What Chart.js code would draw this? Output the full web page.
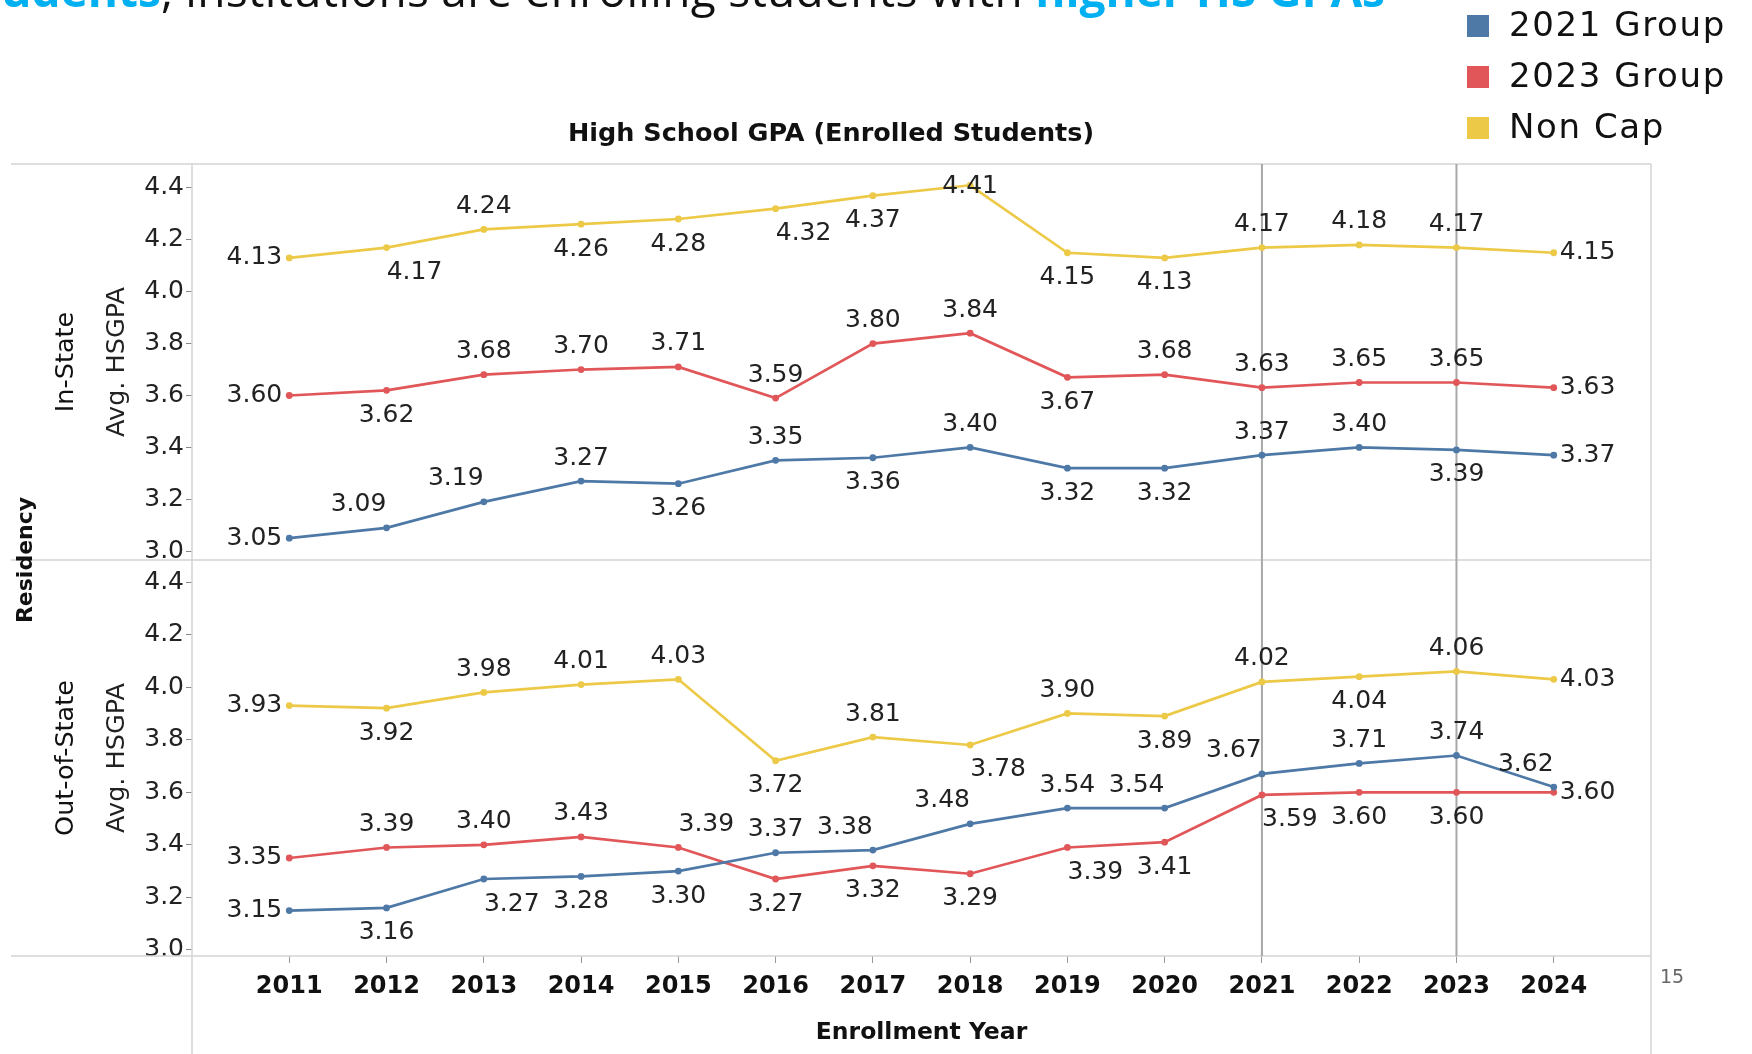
<!DOCTYPE html>
<html>
<head>
<meta charset="utf-8">
<script src="https://cdn.jsdelivr.net/npm/chart.js@4.4.0/dist/chart.umd.min.js"></script>
<style>
  html, body { margin: 0; padding: 0; background: #fff; overflow: hidden; }
  #wrap { position: relative; width: 1752px; height: 1054px; overflow: hidden; }
  #chart { position: absolute; left: 0; top: 0; }
  #headline {
    position: absolute; right: 367px; top: -34px;
    white-space: nowrap; font: 46px "Open Sans"; line-height: 46px; color: #111;
    letter-spacing: 0.3px;
  }
  #headline b { color: #00b0f0; letter-spacing: 0; }
</style>
</head>
<body>
<div id="wrap">
  <canvas id="chart" width="1752" height="1054"></canvas>
  <div id="headline"><b>Students</b>, institutions are enrolling students with <b>higher HS GPAs</b></div>
</div>
<script>
const years = [2011, 2012, 2013, 2014, 2015, 2016, 2017, 2018, 2019, 2020, 2021, 2022, 2023, 2024];
const yTicks = [3.0, 3.2, 3.4, 3.6, 3.8, 4.0, 4.2, 4.4];
const refYears = [2021, 2023];
const groups = ['2021 Group', '2023 Group', 'Non Cap'];
const colors = ['#4e79a7', '#e15759', '#edc948'];

// In-State
const inState2021 = [3.05, 3.09, 3.19, 3.27, 3.26, 3.35, 3.36, 3.40, 3.32, 3.32, 3.37, 3.40, 3.39, 3.37];
const inState2023 = [3.60, 3.62, 3.68, 3.70, 3.71, 3.59, 3.80, 3.84, 3.67, 3.68, 3.63, 3.65, 3.65, 3.63];
const inStateNonCap = [4.13, 4.17, 4.24, 4.26, 4.28, 4.32, 4.37, 4.41, 4.15, 4.13, 4.17, 4.18, 4.17, 4.15];

// Out-of-State
const outState2021 = [3.15, 3.16, 3.27, 3.28, 3.30, 3.37, 3.38, 3.48, 3.54, 3.54, 3.67, 3.71, 3.74, 3.62];
const outState2023 = [3.35, 3.39, 3.40, 3.43, 3.39, 3.27, 3.32, 3.29, 3.39, 3.41, 3.59, 3.60, 3.60, 3.60];
const outStateNonCap = [3.93, 3.92, 3.98, 4.01, 4.03, 3.72, 3.81, 3.78, 3.90, 3.89, 4.02, 4.04, 4.06, 4.03];

// where each value label sits next to its point (a=above, b=below, l/r=side, c=on point)
const labelSide = [
  ['l','al','al','a','b','a','b','a','b','b','a','a','b','r'],
  ['l','b','a','a','a','a','a','a','b','a','a','a','a','r'],
  ['l','br','a','b','b','br','b','c','b','b','a','a','a','r'],
  ['l','b','br','b','b','a','al','al','a','al','al','a','a','al'],
  ['l','a','a','a','ar','b','b','b','br','b','br','b','b','r'],
  ['l','b','a','a','a','b','a','br','a','b','a','b','a','r']
];

const FONT = '"DejaVu Sans", sans-serif';

function series(values, i, axis) {
  return {
    label: groups[i],
    data: values.map((v, k) => ({ x: years[k], y: v })),
    yAxisID: axis,
    borderColor: colors[i],
    backgroundColor: colors[i],
    pointBackgroundColor: colors[i],
    borderWidth: 2.7,
    pointRadius: 3.4,
    pointBorderWidth: 0,
    tension: 0,
    clip: false
  };
}

const panels = {
  id: 'panels',
  beforeDatasetsDraw(chart) {
    const { ctx, chartArea, scales } = chart;
    ctx.save();
    ctx.strokeStyle = '#d4d4d4';
    ctx.lineWidth = 1.5;
    ctx.beginPath();
    [scales.yIn.top, scales.yIn.bottom, scales.yOut.bottom].forEach(y => {
      ctx.moveTo(11, y); ctx.lineTo(chartArea.right, y);
    });
    ctx.moveTo(chartArea.left, chartArea.top); ctx.lineTo(chartArea.left, chart.height);
    ctx.moveTo(chartArea.right, chartArea.top); ctx.lineTo(chartArea.right, chart.height);
    ctx.stroke();

    ctx.strokeStyle = '#a8a8a8';
    ctx.lineWidth = 2;
    ctx.beginPath();
    refYears.forEach(yr => {
      const x = scales.x.getPixelForValue(yr);
      ctx.moveTo(x, chartArea.top); ctx.lineTo(x, chartArea.bottom);
    });
    ctx.stroke();
    ctx.restore();
  },
  afterDatasetsDraw(chart) {
    const { ctx } = chart;
    ctx.save();
    ctx.font = '25px ' + FONT;
    ctx.fillStyle = '#222';
    ctx.textBaseline = 'middle';
    chart.data.datasets.forEach((ds, di) => {
      const meta = chart.getDatasetMeta(di);
      meta.data.forEach((pt, k) => {
        const side = labelSide[di][k];
        const txt = ds.data[k].y.toFixed(2);
        let x = pt.x, y = pt.y;
        ctx.textAlign = 'center';
        if (side === 'l') { ctx.textAlign = 'right'; x -= 7; }
        else if (side === 'r') { ctx.textAlign = 'left'; x += 6; }
        else if (side === 'c') { y += 1; }
        else {
          y += side[0] === 'a' ? -23 : 25;
          if (side[1] === 'l') x -= 28;
          if (side[1] === 'r') x += 28;
        }
        ctx.fillText(txt, x, y);
      });
    });
    ctx.restore();
  },
  afterDraw(chart) {
    const { ctx, scales } = chart;
    ctx.save();
    ctx.fillStyle = '#111';
    ctx.textAlign = 'center';
    ctx.textBaseline = 'middle';

    ctx.font = 'bold 25.5px ' + FONT;
    ctx.fillText('High School GPA (Enrolled Students)', 831, 134);

    const rowLabel = (text, x, y, font) => {
      ctx.save();
      ctx.translate(x, y);
      ctx.rotate(-Math.PI / 2);
      ctx.font = font;
      ctx.fillText(text, 0, 0);
      ctx.restore();
    };
    rowLabel('Residency', 26, scales.yIn.bottom, 'bold 22px ' + FONT);
    rowLabel('In-State', 66, (scales.yIn.top + scales.yIn.bottom) / 2, '25.5px ' + FONT);
    rowLabel('Out-of-State', 66, (scales.yOut.top + scales.yOut.bottom) / 2, '25.5px ' + FONT);

    // legend
    ctx.textAlign = 'left';
    ctx.font = '34px ' + FONT;
    ctx.letterSpacing = '1.6px';
    groups.forEach((g, i) => {
      const y = 26 + i * 51;
      ctx.fillStyle = colors[i];
      ctx.fillRect(1467, y - 11, 22, 22);
      ctx.fillStyle = '#111';
      ctx.fillText(g, 1509, y + 1);
    });
    ctx.letterSpacing = '0px';

    ctx.fillStyle = '#666';
    ctx.font = '19px ' + FONT;
    ctx.textAlign = 'center';
    ctx.fillText('15', 1672, 978);
    ctx.restore();
  }
};

const yAxis = (min, max, weight) => ({
  type: 'linear',
  position: 'left',
  stack: 'residency',
  stackWeight: 1,
  weight: weight,
  min: min,
  max: max,
  afterBuildTicks: s => { s.ticks = yTicks.map(v => ({ value: v })); },
  afterFit: s => { s.width = 192; },
  ticks: {
    callback: v => v.toFixed(1),
    font: { family: FONT, size: 25 },
    color: '#222',
    padding: 2,
    autoSkip: false
  },
  grid: { drawOnChartArea: false, drawTicks: true, tickLength: 6, color: '#888' },
  border: { display: false },
  title: {
    display: true,
    text: 'Avg. HSGPA',
    font: { family: FONT, size: 25.5 },
    color: '#222',
    padding: { top: 102, bottom: 0 }
  }
});

new Chart(document.getElementById('chart'), {
  type: 'line',
  data: {
    datasets: [
      series(inState2021, 0, 'yIn'),
      series(inState2023, 1, 'yIn'),
      series(inStateNonCap, 2, 'yIn'),
      series(outState2021, 0, 'yOut'),
      series(outState2023, 1, 'yOut'),
      series(outStateNonCap, 2, 'yOut')
    ]
  },
  options: {
    responsive: false,
    animation: false,
    devicePixelRatio: 1,
    layout: { padding: { top: 164, right: 101, left: 0, bottom: 0 } },
    plugins: { legend: { display: false }, tooltip: { enabled: false } },
    scales: {
      x: {
        type: 'linear',
        min: 2010,
        max: 2025,
        afterBuildTicks: s => { s.ticks = years.map(v => ({ value: v })); },
        afterFit: s => { s.height = 98; },
        ticks: {
          callback: v => String(v),
          font: { family: FONT, size: 24, weight: 'bold' },
          color: '#111',
          padding: 9,
          autoSkip: false,
          maxRotation: 0
        },
        grid: { drawOnChartArea: false, drawTicks: true, tickLength: 7, color: '#999' },
        border: { display: false },
        title: {
          display: true,
          text: 'Enrollment Year',
          font: { family: FONT, size: 23.5, weight: 'bold' },
          color: '#111',
          padding: { top: 4, bottom: 7 }
        }
      },
      yIn: yAxis(2.966, 4.492, 1),
      yOut: yAxis(2.977, 4.484, 0)
    }
  },
  plugins: [panels]
});
</script>
</body>
</html>
